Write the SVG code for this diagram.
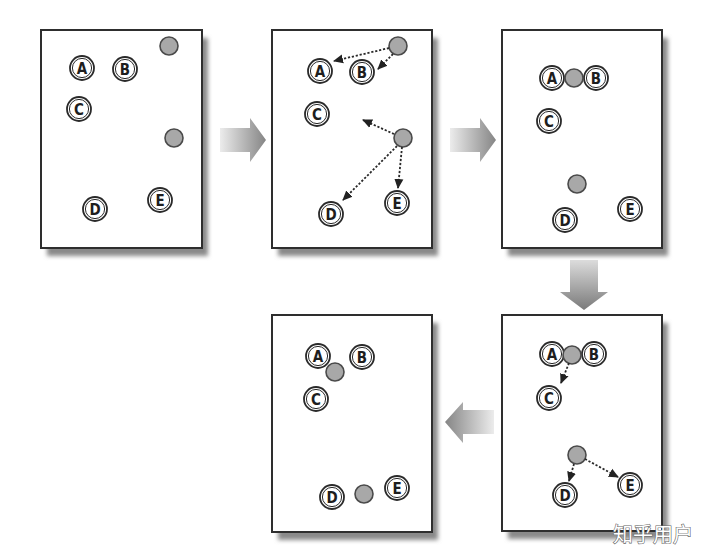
<svg xmlns="http://www.w3.org/2000/svg" xmlns:xlink="http://www.w3.org/1999/xlink" width="720" height="559" viewBox="0 0 720 559">
<style>
.panel{fill:#fff;stroke:#2e2e2e;stroke-width:2}
.shadow{fill:#8a8a8a;filter:url(#blur)}
.o{fill:#fff;stroke:#2a2a2a;stroke-width:1.8}
.i{fill:none;stroke:#2a2a2a;stroke-width:1}
.c{fill:#a8a8a8;stroke:#4a4a4a;stroke-width:1.6}
.lt{font-family:"DejaVu Sans Condensed","DejaVu Sans",sans-serif;font-weight:bold;font-size:15px;fill:#1e1e1e;text-anchor:middle}
.dash{fill:none;stroke:#2a2a2a;stroke-width:1.8;stroke-dasharray:2.2 1.8;marker-end:url(#ah)}
.wm{font-family:"Noto Sans CJK SC",sans-serif;font-size:20px;fill:#fff;stroke:#666;stroke-width:1.2;paint-order:stroke}
</style>
<defs>
<filter id="blur" x="-10%" y="-10%" width="120%" height="120%"><feGaussianBlur stdDeviation="2.2"/></filter>
<marker id="ah" viewBox="0 0 10 10" refX="9" refY="5" markerWidth="10" markerHeight="10" markerUnits="userSpaceOnUse" orient="auto"><path d="M0,0.5 L10,5 L0,9.5 z" fill="#222"/></marker>
<linearGradient id="gr" x1="0" y1="0" x2="1" y2="0"><stop offset="0" stop-color="#ececec"/><stop offset="1" stop-color="#858585"/></linearGradient>
<linearGradient id="gl" x1="1" y1="0" x2="0" y2="0"><stop offset="0" stop-color="#ececec"/><stop offset="1" stop-color="#858585"/></linearGradient>
<linearGradient id="gd" x1="0" y1="0" x2="0" y2="1"><stop offset="0" stop-color="#dcdcdc"/><stop offset="1" stop-color="#7a7a7a"/></linearGradient>
<g id="lab"><circle r="12" class="o"/><circle r="9.6" class="i"/></g>
<circle id="cen" r="9" class="c"/>
</defs>

<g id="panel1">
<rect class="shadow" x="47" y="38" width="161" height="218"/>
<rect class="panel" x="41" y="30" width="161" height="218"/>
<g id="p1-A"><use xlink:href="#lab" x="82" y="68"/><text class="lt" x="82" y="73.5">A</text></g>
<g id="p1-B"><use xlink:href="#lab" x="125" y="69"/><text class="lt" x="125" y="74.5">B</text></g>
<g id="p1-C"><use xlink:href="#lab" x="79" y="109"/><text class="lt" x="79" y="114.5">C</text></g>
<g id="p1-D"><use xlink:href="#lab" x="95" y="209"/><text class="lt" x="95" y="214.5">D</text></g>
<g id="p1-E"><use xlink:href="#lab" x="160" y="200"/><text class="lt" x="160" y="205.5">E</text></g>
<g id="p1-k1"><use xlink:href="#cen" x="169" y="46"/></g>
<g id="p1-k2"><use xlink:href="#cen" x="174" y="138"/></g>
</g>

<g id="panel2">
<rect class="shadow" x="278" y="38" width="160" height="218"/>
<rect class="panel" x="272" y="30" width="160" height="218"/>
<g id="p2-A"><use xlink:href="#lab" x="320" y="71"/><text class="lt" x="320" y="76.5">A</text></g>
<g id="p2-B"><use xlink:href="#lab" x="362" y="72"/><text class="lt" x="362" y="77.5">B</text></g>
<g id="p2-C"><use xlink:href="#lab" x="317" y="114"/><text class="lt" x="317" y="119.5">C</text></g>
<g id="p2-D"><use xlink:href="#lab" x="331" y="214"/><text class="lt" x="331" y="219.5">D</text></g>
<g id="p2-E"><use xlink:href="#lab" x="397" y="203"/><text class="lt" x="397" y="208.5">E</text></g>
<g id="p2-k1"><use xlink:href="#cen" x="398" y="46"/></g>
<g id="p2-k2"><use xlink:href="#cen" x="403" y="138"/></g>
</g>

<g id="panel3">
<rect class="shadow" x="508" y="38" width="160" height="218"/>
<rect class="panel" x="502" y="30" width="160" height="218"/>
<g id="p3-A"><use xlink:href="#lab" x="552" y="78"/><text class="lt" x="552" y="83.5">A</text></g>
<g id="p3-B"><use xlink:href="#lab" x="596" y="78"/><text class="lt" x="596" y="83.5">B</text></g>
<g id="p3-k1"><use xlink:href="#cen" x="574" y="78"/></g>
<g id="p3-C"><use xlink:href="#lab" x="549" y="121"/><text class="lt" x="549" y="126.5">C</text></g>
<g id="p3-k2"><use xlink:href="#cen" x="577" y="184"/></g>
<g id="p3-D"><use xlink:href="#lab" x="565" y="220"/><text class="lt" x="565" y="225.5">D</text></g>
<g id="p3-E"><use xlink:href="#lab" x="630" y="209"/><text class="lt" x="630" y="214.5">E</text></g>
</g>

<g id="panel5">
<rect class="shadow" x="508" y="323" width="160" height="216"/>
<rect class="panel" x="502" y="315" width="160" height="216"/>
<g id="p5-A"><use xlink:href="#lab" x="552" y="354"/><text class="lt" x="552" y="359.5">A</text></g>
<g id="p5-B"><use xlink:href="#lab" x="594" y="354"/><text class="lt" x="594" y="359.5">B</text></g>
<g id="p5-k1"><use xlink:href="#cen" x="572" y="355"/></g>
<g id="p5-C"><use xlink:href="#lab" x="549" y="398"/><text class="lt" x="549" y="403.5">C</text></g>
<g id="p5-k2"><use xlink:href="#cen" x="577" y="455"/></g>
<g id="p5-D"><use xlink:href="#lab" x="565" y="495"/><text class="lt" x="565" y="500.5">D</text></g>
<g id="p5-E"><use xlink:href="#lab" x="630" y="485"/><text class="lt" x="630" y="490.5">E</text></g>
</g>

<g id="panel4">
<rect class="shadow" x="278" y="323" width="160" height="217"/>
<rect class="panel" x="272" y="315" width="160" height="217"/>
<g id="p4-A"><use xlink:href="#lab" x="318" y="356"/><text class="lt" x="318" y="361.5">A</text></g>
<g id="p4-k1"><use xlink:href="#cen" x="335" y="372"/></g>
<g id="p4-B"><use xlink:href="#lab" x="362" y="357"/><text class="lt" x="362" y="362.5">B</text></g>
<g id="p4-C"><use xlink:href="#lab" x="316" y="399"/><text class="lt" x="316" y="404.5">C</text></g>
<g id="p4-D"><use xlink:href="#lab" x="332" y="497"/><text class="lt" x="332" y="502.5">D</text></g>
<g id="p4-k2"><use xlink:href="#cen" x="364" y="494"/></g>
<g id="p4-E"><use xlink:href="#lab" x="397" y="488"/><text class="lt" x="397" y="493.5">E</text></g>
</g>

<g id="connectors">
<path class="dash" d="M389,48 L334,61"/>
<path class="dash" d="M393,54 L378,69"/>
<path class="dash" d="M394,134 L363,120"/>
<path class="dash" d="M397,146 L343,200"/>
<path class="dash" d="M402,147 L398,188"/>
<path class="dash" d="M569,363 L561,383"/>
<path class="dash" d="M574,464 L569,481"/>
<path class="dash" d="M585,459 L618,477"/>
<polygon fill="url(#gr)" points="220,128 250,128 250,118 266,140 250,162 250,152 220,152"/>
<polygon fill="url(#gr)" points="450,128 480,128 480,118 496,140 480,162 480,152 450,152"/>
<polygon fill="url(#gl)" points="494,410 463,410 463,402 445,422 463,443 463,434 494,434"/>
<polygon fill="url(#gd)" points="570,260 598,260 598,292 608,292 584,310 560,292 570,292"/>
</g>

<text class="wm" x="613" y="542">知乎用户</text>
</svg>
